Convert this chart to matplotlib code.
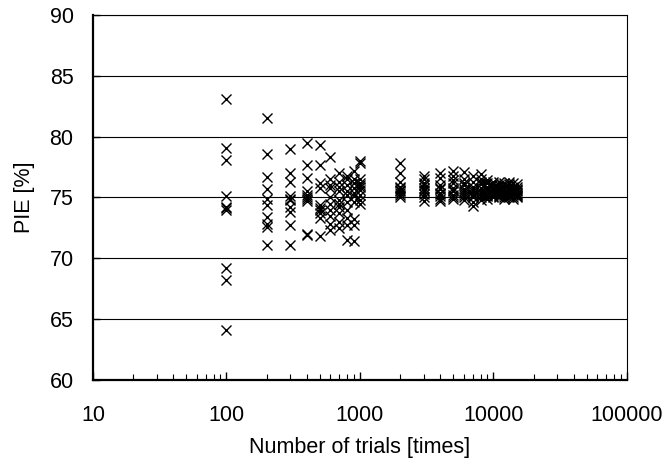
import matplotlib
matplotlib.use("Agg")
import matplotlib.pyplot as plt
from matplotlib.ticker import LogLocator, FixedLocator, NullFormatter, FixedFormatter

plt.rcParams['font.family'] = ['Liberation Sans', 'DejaVu Sans']

# Number of trials (x) and the PIE values observed at each
trials = [100, 200, 300, 400, 500, 600, 700, 800, 900, 1000,
          2000, 3000, 4000, 5000, 6000, 7000, 8000, 9000, 10000,
          11000, 12000, 13000, 14000, 15000]

pie_values = [
    [83.1, 79.1, 78.1, 75.1, 74.2, 74.0, 69.2, 68.2, 64.1, 74.1],
    [81.5, 78.6, 76.7, 75.7, 74.9, 74.4, 73.4, 72.8, 72.6, 71.1],
    [79.0, 77.0, 76.3, 75.1, 74.8, 74.2, 73.8, 72.7, 71.1, 74.9],
    [79.5, 77.7, 76.6, 75.5, 75.2, 74.7, 72.0, 71.9, 75.0, 74.9],
    [79.3, 77.7, 76.2, 75.8, 74.4, 74.1, 74.0, 73.3, 71.8, 73.7],
    [78.3, 76.5, 75.8, 75.0, 74.5, 73.5, 72.8, 72.3, 74.0, 76.0],
    [77.0, 76.3, 75.5, 74.8, 74.2, 73.7, 73.0, 72.5, 75.9, 74.5],
    [76.8, 76.0, 75.2, 74.6, 74.0, 73.3, 72.7, 71.5, 76.5, 75.5],
    [77.2, 76.5, 75.8, 75.1, 74.6, 73.2, 72.7, 71.4, 76.2, 75.4],
    [78.0, 77.8, 76.5, 76.0, 75.6, 75.2, 74.8, 74.5, 75.9, 76.2],
    [77.8, 77.0, 76.3, 75.9, 75.6, 75.4, 75.2, 75.0, 75.5, 75.8],
    [76.8, 76.5, 76.2, 75.8, 75.5, 75.3, 75.0, 74.7, 76.0, 75.6],
    [77.0, 76.6, 76.0, 75.7, 75.4, 75.1, 74.9, 74.7, 75.8, 75.3],
    [77.2, 76.8, 76.2, 75.8, 75.5, 75.2, 75.0, 74.9, 76.4, 75.6],
    [77.1, 76.5, 76.0, 75.7, 75.4, 75.2, 75.0, 74.8, 76.2, 75.5],
    [76.8, 76.3, 75.9, 75.5, 75.3, 75.0, 74.6, 74.3, 75.7, 75.1],
    [76.9, 76.5, 76.1, 75.8, 75.5, 75.2, 75.0, 74.8, 76.3, 75.4],
    [76.4, 76.2, 75.9, 75.7, 75.5, 75.3, 75.1, 74.9, 75.6, 75.2],
    [76.3, 76.1, 75.9, 75.7, 75.5, 75.3, 75.1, 75.0, 75.8, 75.4],
    [76.3, 76.0, 75.8, 75.6, 75.4, 75.2, 75.1, 75.0, 75.7, 75.5],
    [76.2, 76.0, 75.8, 75.6, 75.4, 75.2, 75.0, 74.9, 75.7, 75.3],
    [76.3, 76.1, 75.8, 75.6, 75.4, 75.3, 75.1, 75.0, 75.5, 75.2],
    [76.2, 75.9, 75.7, 75.5, 75.4, 75.2, 75.0, 74.9, 75.6, 75.3],
    [76.1, 75.9, 75.7, 75.5, 75.4, 75.2, 75.1, 75.0, 75.6, 75.3],
]

x_ticks = [10, 100, 1000, 10000, 100000]
x_tick_labels = ['10', '100', '1000', '10000', '100000']
y_ticks = [60, 65, 70, 75, 80, 85, 90]

fig = plt.figure(figsize=(6.72, 4.68), dpi=100)
ax = fig.add_axes([0.1384, 0.188, 0.7946, 0.78])

for xv, ys in zip(trials, pie_values):
    ax.plot([xv] * len(ys), ys, linestyle='none', marker='x', color='black',
            markersize=7, markeredgewidth=1.0, zorder=3)

ax.set_xscale('log')
ax.set_xlim(10, 100000)
ax.set_ylim(60, 90)
ax.xaxis.set_major_locator(FixedLocator(x_ticks))
ax.xaxis.set_major_formatter(FixedFormatter(x_tick_labels))
ax.xaxis.set_minor_locator(LogLocator(base=10, subs=range(2, 10)))
ax.xaxis.set_minor_formatter(NullFormatter())
ax.set_yticks(y_ticks)

ax.yaxis.grid(True, color='black', linewidth=0.8)
ax.set_axisbelow(True)

FS = 15.5
ax.tick_params(axis='x', which='major', direction='in', length=6, width=1,
               labelsize=FS, pad=18, top=False)
ax.tick_params(axis='x', which='minor', direction='in', length=4, width=0.8, top=False)
ax.tick_params(axis='y', which='major', direction='in', length=5, width=1,
               labelsize=FS, pad=14, right=False)

for side in ['left', 'bottom']:
    ax.spines[side].set_linewidth(1.6)
for side in ['top', 'right']:
    ax.spines[side].set_linewidth(0.8)

ax.set_xlabel('Number of trials [times]', fontsize=FS, labelpad=8)
ax.set_ylabel('PIE [%]', fontsize=FS, labelpad=10.5)

fig.savefig('out.png', dpi=100)
